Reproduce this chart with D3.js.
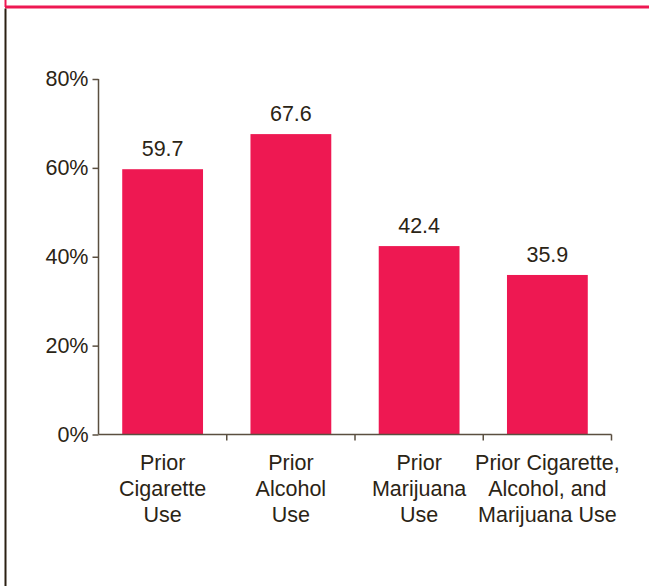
<!DOCTYPE html>
<html>
<head>
<meta charset="utf-8">
<script src="https://cdn.jsdelivr.net/npm/d3@7"></script>
<style>
  body { margin: 0; background: #fff; }
  svg { display: block; font-family: "Liberation Sans", Arial, Helvetica, sans-serif; }
  .axis path, .axis line { stroke: #5a4f40; stroke-width: 1.5px; }
  .axis text { fill: #2b2415; font-size: 21.5px; }
  .label { fill: #2b2415; font-size: 21.5px; }
</style>
</head>
<body>
<svg id="chart" width="649" height="586"></svg>
<script>
const categories = [
  ["Prior", "Cigarette", "Use"],
  ["Prior", "Alcohol", "Use"],
  ["Prior", "Marijuana", "Use"],
  ["Prior Cigarette,", "Alcohol, and", "Marijuana Use"]
];
const values = [59.7, 67.6, 42.4, 35.9];
const yTicks = [0, 20, 40, 60, 80];

const svg = d3.select("#chart");
const pink = "#ee1852";

// frame lines
svg.append("line").attr("x1", 5).attr("x2", 649).attr("y1", 7).attr("y2", 7)
  .attr("stroke", pink).attr("stroke-width", 3);
svg.append("line").attr("x1", 5.5).attr("x2", 5.5).attr("y1", 0).attr("y2", 7)
  .attr("stroke", pink).attr("stroke-width", 2);
svg.append("line").attr("x1", 5.5).attr("x2", 5.5).attr("y1", 8.5).attr("y2", 586)
  .attr("stroke", "#2b2013").attr("stroke-width", 2);

const idx = categories.map((d, i) => i);
const x = d3.scaleBand().domain(idx).range([98.5, 611.5])
  .paddingInner(0.37).paddingOuter(0.185);
const y = d3.scaleLinear().domain([0, 80]).range([434.5, 79]);

// y axis
const yAxis = svg.append("g").attr("class", "axis")
  .attr("transform", "translate(98.5,0)")
  .call(d3.axisLeft(y).tickValues(yTicks).tickSize(6).tickPadding(4)
    .tickFormat(d => d + "%"));
yAxis.select(".domain").attr("d", `M0,${y(80)}V${y(0)}`);

// bars
svg.selectAll(".bar")
  .data(values)
  .enter().append("rect")
    .attr("class", "bar")
    .attr("x", (d, i) => x(i))
    .attr("y", d => y(d))
    .attr("width", x.bandwidth())
    .attr("height", d => y(0) - y(d))
    .attr("fill", pink);

// value labels
svg.selectAll(".value")
  .data(values)
  .enter().append("text")
    .attr("class", "label")
    .attr("text-anchor", "middle")
    .attr("x", (d, i) => x(i) + x.bandwidth() / 2)
    .attr("y", d => y(d) - 13)
    .text(d => d.toFixed(1));

// x axis: ticks at band boundaries
const step = x.step();
const boundaries = d3.range(categories.length + 1).map(i => 98.5 + i * step);
const xAxis = svg.append("g").attr("class", "axis");
xAxis.append("line").attr("x1", 98.5).attr("x2", 611.5)
  .attr("y1", y(0)).attr("y2", y(0));
xAxis.selectAll(".xt").data(boundaries.slice(1)).enter().append("line")
  .attr("x1", d => d).attr("x2", d => d)
  .attr("y1", y(0)).attr("y2", y(0) + 6);

// category labels
const cat = svg.selectAll(".cat")
  .data(categories)
  .enter().append("text")
    .attr("class", "label")
    .attr("text-anchor", "middle")
    .attr("x", (d, i) => x(i) + x.bandwidth() / 2)
    .attr("y", 470);
cat.selectAll("tspan").data(d => d).enter().append("tspan")
  .attr("x", function() { return this.parentNode.getAttribute("x"); })
  .attr("dy", (d, i) => i === 0 ? 0 : 26)
  .text(d => d);
</script>
</body>
</html>
